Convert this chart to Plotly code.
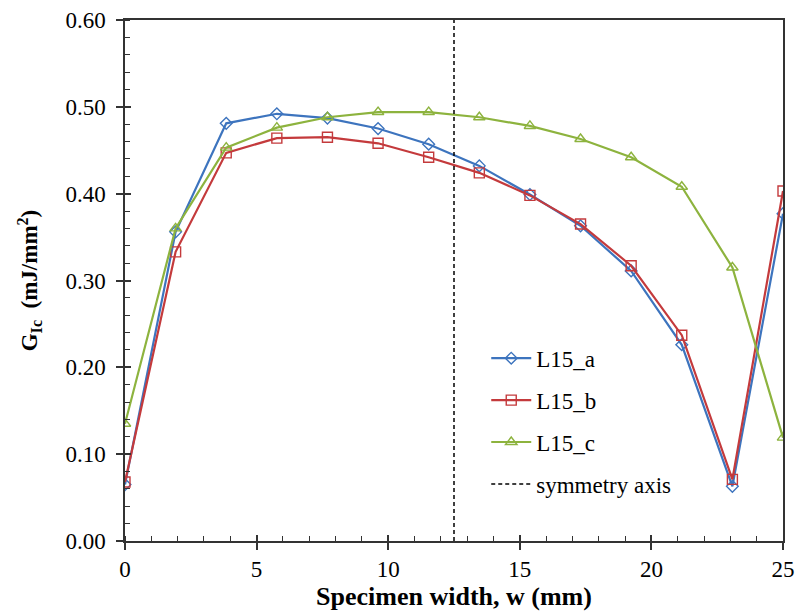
import plotly.graph_objects as go

width_mm = [0, 1.923, 3.846, 5.769, 7.692, 9.615, 11.538, 13.462, 15.385, 17.308, 19.231, 21.154, 23.077, 25]
L15_a = [0.065, 0.356, 0.481, 0.492, 0.487, 0.475, 0.457, 0.432, 0.399, 0.363, 0.311, 0.226, 0.063, 0.377]
L15_b = [0.068, 0.333, 0.447, 0.464, 0.465, 0.458, 0.442, 0.424, 0.398, 0.365, 0.317, 0.237, 0.071, 0.403]
L15_c = [0.135, 0.360, 0.453, 0.476, 0.488, 0.494, 0.494, 0.488, 0.478, 0.463, 0.442, 0.408, 0.315, 0.119]
sym_x = [12.5, 12.5]
sym_y = [0.0, 0.6]

FONT = "Liberation Serif"
BLUE = "#3D74BE"
RED = "#C43A3C"
GREEN = "#8DB33E"

fig = go.Figure()
series = [("L15_a", L15_a, BLUE, "diamond-open", 9),
          ("L15_b", L15_b, RED, "square-open", 10),
          ("L15_c", L15_c, GREEN, "triangle-up-open", 10)]
for name, ys, col, sym, sz in series:
    fig.add_trace(go.Scatter(x=width_mm, y=ys, name=name, mode="lines+markers",
                             legendgroup=name,
                             line=dict(color=col, width=2.2),
                             marker=dict(symbol=sym, size=sz, color=col, line=dict(width=1.4, color=col))))
fig.add_trace(go.Scatter(x=sym_x, y=sym_y, name="symmetry axis", mode="lines",
                         legendgroup="sym",
                         line=dict(color="black", width=1.5, dash="4px,3px")))
# invisible trace to host overlay axes (for crossing ticks)
fig.add_trace(go.Scatter(x=[0], y=[0], xaxis="x2", yaxis="y2", mode="markers",
                         marker=dict(opacity=0), showlegend=False, hoverinfo="skip"))

axis_common = dict(showline=True, linecolor="#333333", linewidth=1.5, mirror=True,
                   showgrid=False, zeroline=False, ticks="outside", ticklen=7,
                   tickcolor="#333333", tickwidth=1.5, automargin=False,
                   tickfont=dict(family=FONT, size=23, color="black"))

fig.update_layout(
    width=798, height=613,
    margin=dict(l=125, r=15, t=20, b=72),
    paper_bgcolor="white", plot_bgcolor="white",
    xaxis=dict(range=[0, 25], dtick=5, tick0=0,
               minor=dict(dtick=1, ticks="inside", ticklen=5, tickcolor="#333333", tickwidth=1.2),
               title=dict(text="<b>Specimen width, w (mm)</b>", font=dict(family=FONT, size=26, color="black"), standoff=2),
               ticklabelstandoff=0,
               **axis_common),
    yaxis=dict(range=[0, 0.6], dtick=0.1, tick0=0, tickformat=".2f",
               minor=dict(dtick=0.02, ticks="inside", ticklen=5, tickcolor="#333333", tickwidth=1.2),
               title=dict(text="<b>G<sub>Ic</sub>  (mJ/mm<sup>2</sup>)</b>", font=dict(family=FONT, size=23, color="black"), standoff=21),
               ticklabelstandoff=6,
               **axis_common),
    xaxis2=dict(overlaying="x", anchor="y2", range=[0, 25], dtick=5, tick0=0, ticks="inside", ticklen=6,
                tickcolor="#333333", tickwidth=1.5, showticklabels=False, showgrid=False,
                zeroline=False, showline=False, automargin=False),
    yaxis2=dict(overlaying="y", anchor="x2", range=[0, 0.6], dtick=0.1, tick0=0, ticks="inside", ticklen=6,
                tickcolor="#333333", tickwidth=1.5, showticklabels=False, showgrid=False,
                zeroline=False, showline=False, automargin=False),
    showlegend=True,
    legend=dict(x=0.549, y=0.392, xanchor="left", yanchor="top", bgcolor="rgba(0,0,0,0)",
                font=dict(family=FONT, size=23, color="black"), tracegroupgap=9,
                traceorder="grouped", itemwidth=40),
)

fig.write_html("out.html", config={"displayModeBar": False},
               post_script="document.body.style.margin='0';document.body.style.overflow='hidden';")
